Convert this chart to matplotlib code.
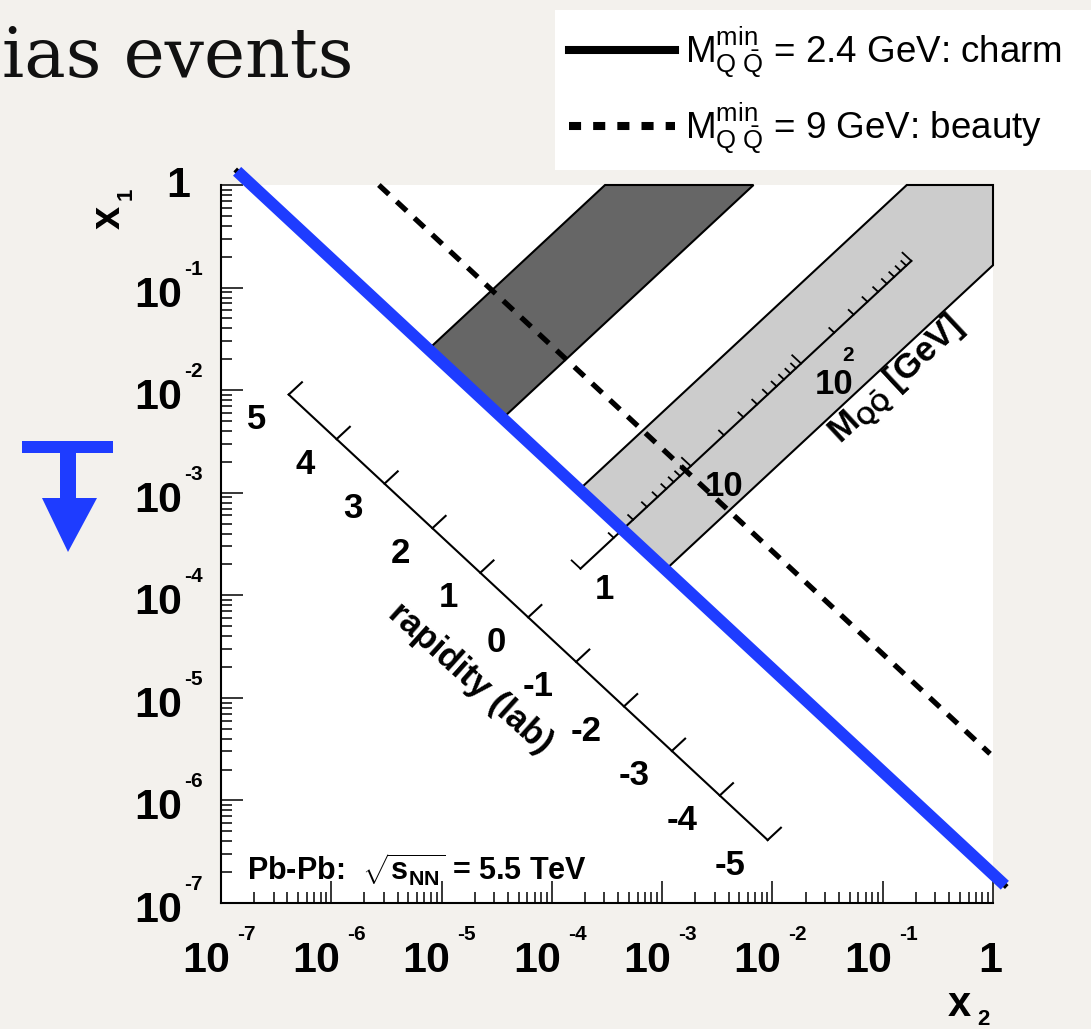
import numpy as np
import matplotlib
matplotlib.use("Agg")
import matplotlib.pyplot as plt
from matplotlib.patches import Polygon, Rectangle
from matplotlib.lines import Line2D
from matplotlib.ticker import LogLocator, NullFormatter

plt.rcParams['font.family'] = ['Liberation Sans', 'DejaVu Sans']
plt.rcParams['mathtext.fontset'] = 'custom'
plt.rcParams['mathtext.rm'] = 'Liberation Sans:bold'
plt.rcParams['mathtext.bf'] = 'Liberation Sans:bold'
plt.rcParams['mathtext.sf'] = 'Liberation Sans'
plt.rcParams['mathtext.it'] = 'Liberation Sans:bold'

# ---------------- data ----------------
sqrt_s_nn = 5500.0                 # GeV
decades = [-7, -6, -5, -4, -3, -2, -1, 0]
charm_x2 = [1.4e-7, 1.28]          # M_min = 2.4 GeV line (x2, x1 end points)
charm_x1 = [1.36, 1.49e-7]
beauty_x2 = [2.7e-6, 0.94]         # M_min = 9 GeV line
beauty_x1 = [1.0, 2.85e-6]
charm_mmin = 2.4
barrel_y = [-0.9, 0.9]             # light grey acceptance band (rapidity)
muon_y = [2.5, 4.05]               # dark grey acceptance band (rapidity)
rap_ticks = [5, 4, 3, 2, 1, 0, -1, -2, -3, -4, -5]
rap_axis_x0 = 6.1e-5               # x1 = x2 point (y = 0) of the rapidity scale
mass_range = [1, 1000]
mass_major = [1, 10, 100, 1000]
mass_minor = [2, 3, 4, 5, 6, 7, 8, 9, 20, 30, 40, 50, 60, 70, 80, 90,
              200, 300, 400, 500, 600, 700, 800, 900]
mass_labels = {1: ('1', None), 10: ('10', None), 100: ('10', '2')}
legend_labels = [r'$\mathsf{M}^{\mathsf{min}}_{\mathsf{Q\;\bar{Q}}}$ = 2.4 GeV: charm',
                 r'$\mathsf{M}^{\mathsf{min}}_{\mathsf{Q\;\bar{Q}}}$ = 9 GeV: beauty']

W, H = 1091, 1029
PT = 0.72  # px -> pt at 100 dpi
BLUE = '#1e3cff'
BG = '#f3f1ed'

fig = plt.figure(figsize=(W / 100, H / 100), dpi=100, facecolor=BG)
ax = fig.add_axes([221 / W, 1 - 903 / H, 772 / W, 718 / H])
ax.set_facecolor('white')
ax.set_xscale('log')
ax.set_yscale('log')
ax.set_xlim(1e-7, 1)
ax.set_ylim(1e-7, 1)
for s in ['top', 'right']:
    ax.spines[s].set_visible(False)
for s in ['left', 'bottom']:
    ax.spines[s].set_linewidth(1.5)
for axis in (ax.xaxis, ax.yaxis):
    axis.set_major_locator(LogLocator(base=10, numticks=20))
    axis.set_minor_locator(LogLocator(base=10, subs=range(2, 10), numticks=20))
    axis.set_major_formatter(NullFormatter())
    axis.set_minor_formatter(NullFormatter())
ax.tick_params(which='major', direction='in', length=15.8, width=1.1,
               top=False, right=False)
ax.tick_params(which='minor', direction='in', length=7.9, width=1.1,
               top=False, right=False)

# tick labels
FS_T = 31
FS_S = 15
for k in decades:
    v = 10.0 ** k
    if k == 0:
        ax.annotate('1', xy=(v, 0), xycoords=('data', 'axes fraction'),
                    xytext=(-3 * PT, -69 * PT), textcoords='offset points',
                    ha='center', va='baseline', fontsize=FS_T, fontweight='bold',
                    annotation_clip=False)
        ax.annotate('1', xy=(0, v), xycoords=('axes fraction', 'data'),
                    xytext=(-31 * PT, -12 * PT), textcoords='offset points',
                    ha='right', va='baseline', fontsize=FS_T, fontweight='bold',
                    annotation_clip=False)
    else:
        ax.annotate('10', xy=(v, 0), xycoords=('data', 'axes fraction'),
                    xytext=(9 * PT, -69 * PT), textcoords='offset points',
                    ha='right', va='baseline', fontsize=FS_T, fontweight='bold',
                    annotation_clip=False)
        ax.annotate(str(k), xy=(v, 0), xycoords=('data', 'axes fraction'),
                    xytext=(16 * PT, -37 * PT), textcoords='offset points',
                    ha='left', va='baseline', fontsize=FS_S, fontweight='bold',
                    annotation_clip=False)
        ax.annotate('10', xy=(0, v), xycoords=('axes fraction', 'data'),
                    xytext=(-39 * PT, -19 * PT), textcoords='offset points',
                    ha='right', va='baseline', fontsize=FS_T, fontweight='bold',
                    annotation_clip=False)
        ax.annotate(str(k), xy=(0, v), xycoords=('axes fraction', 'data'),
                    xytext=(-37 * PT, 13 * PT), textcoords='offset points',
                    ha='left', va='baseline', fontsize=FS_S, fontweight='bold',
                    annotation_clip=False)

# axis titles
fig.text(959 / W, 1 - 1016 / H, 'x', fontsize=30, fontweight='bold',
         ha='center', va='baseline')
fig.text(983 / W, 1 - 1025 / H, '2', fontsize=16, fontweight='bold',
         ha='center', va='baseline')
fig.text(109 / W, 1 - 217 / H, 'x', fontsize=30, fontweight='bold',
         ha='center', va='center', rotation=90)
fig.text(126 / W, 1 - 194 / H, '1', fontsize=16, fontweight='bold',
         ha='center', va='center', rotation=90)

# acceptance bands
m0 = charm_mmin / sqrt_s_nn


def band(ylo, yhi):
    pts = [(m0 * np.exp(-yhi), m0 * np.exp(yhi)), (np.exp(-2 * yhi), 1.0)]
    if ylo >= 0:
        pts.append((np.exp(-2 * ylo), 1.0))
    else:
        pts.append((1.0, 1.0))
        pts.append((1.0, np.exp(2 * ylo)))
    pts.append((m0 * np.exp(-ylo), m0 * np.exp(ylo)))
    return np.array(pts)


ax.add_patch(Polygon(band(*muon_y), closed=True, facecolor='#666666',
                     edgecolor='black', lw=1.5, zorder=1, clip_on=False))
ax.add_patch(Polygon(band(*barrel_y), closed=True, facecolor='#cccccc',
                     edgecolor='black', lw=1.5, zorder=1, clip_on=False))

# rapidity scale
ry = np.array(rap_ticks, dtype=float)
rx2 = rap_axis_x0 * np.exp(-ry)
rx1 = rap_axis_x0 * np.exp(ry)
ax.plot([rx2[0], rx2[-1]], [rx1[0], rx1[-1]], color='black', lw=1.5, zorder=2)
tl = 10 ** 0.12
for yv, a2, a1 in zip(rap_ticks, rx2, rx1):
    ax.plot([a2, a2 * tl], [a1, a1 * tl], color='black', lw=1.5, zorder=2)
    ax.annotate(str(yv), xy=(a2, a1), xytext=(-22 * PT, -25 * PT),
                textcoords='offset points', ha='right', va='center',
                fontsize=25, fontweight='bold')
ax.annotate('rapidity (lab)', xy=(rap_axis_x0, rap_axis_x0),
            xytext=(-58 * PT, -61 * PT), textcoords='offset points',
            ha='center', va='center', rotation=-42, fontsize=25,
            fontweight='bold')

# mass scale
mx = np.array(mass_range, dtype=float) / sqrt_s_nn
ax.plot(mx, mx, color='black', lw=1.5, zorder=2)
for mv in mass_major + mass_minor:
    t = 10 ** (0.08 if mv in mass_major else 0.045)
    p = mv / sqrt_s_nn
    ax.plot([p, p / t], [p, p * t], color='black', lw=1.3, zorder=2)
for mv, (txt, sup) in mass_labels.items():
    p = mv / sqrt_s_nn
    ax.annotate(txt, xy=(p, p), xytext=(14 * PT, -30 * PT),
                textcoords='offset points', ha='left', va='baseline',
                fontsize=25, fontweight='bold', zorder=2)
    if sup:
        ax.annotate(sup, xy=(p, p), xytext=(41 * PT, 3 * PT),
                    textcoords='offset points', ha='left', va='baseline',
                    fontsize=15, fontweight='bold', zorder=2)
mlab = 245 / sqrt_s_nn
ax.annotate(r'$\mathbf{M}_{\mathbf{Q\bar{Q}}}$ [GeV]', xy=(mlab, mlab),
            xytext=(53 * PT, -57 * PT), textcoords='offset points',
            ha='center', va='center', rotation=43, fontsize=25,
            fontweight='bold')

# threshold lines
ax.plot(beauty_x2, beauty_x1, color='black', lw=3.8,
        linestyle=(0, (2.6, 2.0)), zorder=3, clip_on=False)
ax.plot(charm_x2, charm_x1, color='black', lw=3.8, zorder=4, clip_on=False)
ax.plot(charm_x2, charm_x1, color=BLUE, lw=8.6, zorder=5, clip_on=False,
        solid_capstyle='butt')

# Pb-Pb label
ax.annotate(r'Pb-Pb:  $\sqrt{\mathbf{s}_{\mathbf{NN}}}$ = 5.5 TeV', xy=(0, 1e-7),
            xycoords=('axes fraction', 'data'), xytext=(26 * PT, 33 * PT),
            textcoords='offset points', ha='left', va='center', fontsize=22,
            fontweight='bold')

# legend
h1 = Line2D([], [], color='black', lw=5.8)
h2 = Line2D([], [], color='black', lw=5.8, linestyle=(0, (1.5, 1.5)))
leg = fig.legend([h1, h2], legend_labels, loc='upper left',
                 bbox_to_anchor=(555 / W, 1 - 168 / H, 536 / W, 158 / H),
                 mode='expand', fontsize=26.5, frameon=True, fancybox=False,
                 edgecolor='white', facecolor='white', framealpha=1,
                 borderaxespad=0, handlelength=2.88, handletextpad=0.27,
                 labelspacing=0.55, borderpad=0.38)
leg.get_frame().set_linewidth(0)

# slide title fragment
fig.text(2 / W, 1 - 77 / H, 'ias events', fontsize=50, family='DejaVu Serif',
         ha='left', va='baseline', color='#111111')

# blue arrow marker
fig.add_artist(Rectangle((22 / W, 1 - 453 / H), 91 / W, 12 / H,
                         transform=fig.transFigure, color=BLUE, lw=0))
fig.add_artist(Rectangle((60 / W, 1 - 499 / H), 16 / W, 46 / H,
                         transform=fig.transFigure, color=BLUE, lw=0))
fig.add_artist(Polygon([(42 / W, 1 - 498 / H), (97 / W, 1 - 498 / H),
                        (68 / W, 1 - 552 / H)], closed=True,
                       transform=fig.transFigure, color=BLUE, lw=0))

fig.savefig('out.png', dpi=100, facecolor=fig.get_facecolor())
